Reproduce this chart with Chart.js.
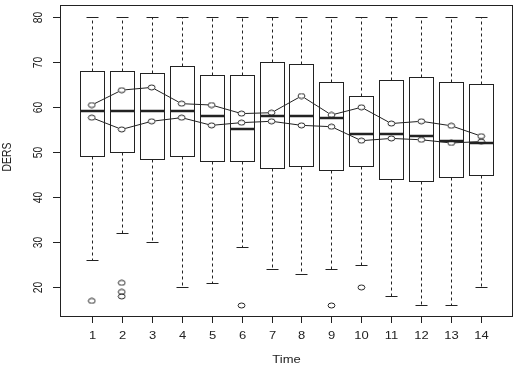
<!DOCTYPE html>
<html>
<head>
<meta charset="utf-8">
<script src="https://cdn.jsdelivr.net/npm/chart.js@4.4.1/dist/chart.umd.min.js"></script>
<style>
  html, body { margin: 0; padding: 0; background: #fff; }
  canvas { display: block; }
</style>
</head>
<body>
<canvas id="chart" width="518" height="369"></canvas>
<script>
// DERS scores by time point, boxplot with two group means on top

// --- data ---
const times = [1, 2, 3, 4, 5, 6, 7, 8, 9, 10, 11, 12, 13, 14];
const q1 = [49, 50, 48.5, 49, 48, 48, 46.5, 47, 46, 47, 44, 43.5, 44.5, 45];
const q3 = [68, 68, 67.5, 69, 67, 67, 70, 69.5, 65.5, 62.5, 66, 66.5, 65.5, 65];
const medians = [59, 59, 59, 59, 58, 55, 58, 58, 57.5, 54, 54, 53.5, 52.5, 52];
const whiskerLow = [26, 32, 30, 20, 21, 29, 24, 23, 24, 25, 18, 16, 16, 20];
const whiskerHigh = [80, 80, 80, 80, 80, 80, 80, 80, 80, 80, 80, 80, 80, 80];
const outlierTime = [1, 2, 2, 2, 6, 9, 10];
const outlierValue = [17, 21, 19, 18, 16, 16, 20];
const groupA = [60.4, 63.7, 64.3, 60.7, 60.4, 58.5, 58.7, 62.4, 58.2, 59.9, 56.3, 56.8, 55.8, 53.5];
const groupB = [57.6, 55, 56.8, 57.6, 55.9, 56.5, 56.8, 55.9, 55.6, 52.5, 53, 52.7, 52, 52.3];
const yTicks = [20, 30, 40, 50, 60, 70, 80];
const xLabel = 'Time';
const yLabel = 'DERS';

// --- look ---
const ink = '#222';
const font = '13px "Liberation Sans", Arial, sans-serif';
const squash = 0.8; // the picture is a bit flattened vertically

// open ellipse marker (R pch 1 after the squash)
function ring() {
  const c = document.createElement('canvas');
  c.width = 9; c.height = 7;
  const g = c.getContext('2d');
  g.strokeStyle = ink;
  g.lineWidth = 1;
  g.beginPath();
  g.ellipse(4.5, 3.5, 3.4, 2.5, 0, 0, Math.PI * 2);
  g.stroke();
  return c;
}
const marker = ring();

function pts(vals) {
  return times.map((t, i) => ({ x: t, y: vals[i] }));
}

function text(ctx, s, x, y, rot) {
  ctx.save();
  ctx.translate(x, y);
  ctx.scale(1, squash);
  if (rot) ctx.rotate(rot);
  ctx.fillText(s, 0, 0);
  ctx.restore();
}

const crisp = v => Math.round(v) + 0.5;

const boxPlugin = {
  id: 'boxes',
  beforeDatasetsDraw(chart) {
    const { ctx, scales: { x, y } } = chart;
    ctx.save();
    ctx.strokeStyle = ink;
    ctx.lineWidth = 1;

    times.forEach((t, i) => {
      const cx = crisp(x.getPixelForValue(t));
      const l = crisp(x.getPixelForValue(t - 0.4));
      const r = crisp(x.getPixelForValue(t + 0.4));
      const sl = crisp(x.getPixelForValue(t - 0.2));
      const sr = crisp(x.getPixelForValue(t + 0.2));
      const yLo = crisp(y.getPixelForValue(whiskerLow[i]));
      const yHi = crisp(y.getPixelForValue(whiskerHigh[i]));
      const yQ1 = crisp(y.getPixelForValue(q1[i]));
      const yQ3 = crisp(y.getPixelForValue(q3[i]));
      const yMed = Math.round(y.getPixelForValue(medians[i]));

      // whiskers
      ctx.setLineDash([3, 3]);
      ctx.beginPath();
      ctx.moveTo(cx, yQ3); ctx.lineTo(cx, yHi);
      ctx.moveTo(cx, yQ1); ctx.lineTo(cx, yLo);
      ctx.stroke();
      ctx.setLineDash([]);

      // staples
      ctx.beginPath();
      ctx.moveTo(sl, yHi); ctx.lineTo(sr, yHi);
      ctx.moveTo(sl, yLo); ctx.lineTo(sr, yLo);
      ctx.stroke();

      // box
      ctx.fillStyle = '#fff';
      ctx.fillRect(l, yQ3, r - l, yQ1 - yQ3);
      ctx.strokeRect(l, yQ3, r - l, yQ1 - yQ3);

      // median
      ctx.lineWidth = 2.5;
      ctx.beginPath();
      ctx.moveTo(l - 0.5, yMed); ctx.lineTo(r + 0.5, yMed);
      ctx.stroke();
      ctx.lineWidth = 1;
    });

    // group mean lines, type "b": segments stop short of the markers
    const gap = 3.6;
    [groupA, groupB].forEach(vals => {
      ctx.beginPath();
      for (let i = 0; i < times.length - 1; i++) {
        const x0 = x.getPixelForValue(times[i]), y0 = y.getPixelForValue(vals[i]);
        const x1 = x.getPixelForValue(times[i + 1]), y1 = y.getPixelForValue(vals[i + 1]);
        const d = Math.hypot(x1 - x0, y1 - y0);
        if (d <= gap * 2) continue;
        const ux = (x1 - x0) / d, uy = (y1 - y0) / d;
        ctx.moveTo(x0 + ux * gap, y0 + uy * gap);
        ctx.lineTo(x1 - ux * gap, y1 - uy * gap);
      }
      ctx.stroke();
    });
    ctx.restore();
  },
  afterDraw(chart) {
    const { ctx, chartArea: a, scales: { x, y } } = chart;
    ctx.save();
    ctx.strokeStyle = ink;
    ctx.fillStyle = ink;
    ctx.lineWidth = 1;
    ctx.font = font;

    // frame
    ctx.strokeRect(a.left + 0.5, a.top + 0.5, a.right - a.left - 1, a.bottom - a.top - 1);

    // y axis
    ctx.textAlign = 'center';
    ctx.textBaseline = 'middle';
    yTicks.forEach(v => {
      const py = crisp(y.getPixelForValue(v));
      ctx.beginPath();
      ctx.moveTo(a.left - 7, py); ctx.lineTo(a.left, py);
      ctx.stroke();
      text(ctx, String(v), a.left - 22, py, -Math.PI / 2);
    });

    // x axis
    times.forEach(t => {
      const px = crisp(x.getPixelForValue(t));
      ctx.beginPath();
      ctx.moveTo(px, a.bottom); ctx.lineTo(px, a.bottom + 6);
      ctx.stroke();
      text(ctx, String(t), px, a.bottom + 19);
    });

    text(ctx, xLabel, (a.left + a.right) / 2, a.bottom + 43);
    text(ctx, yLabel, 7, (a.top + a.bottom) / 2 - 4, -Math.PI / 2);
    ctx.restore();
  }
};

const pointStyle = {
  pointStyle: marker,
  pointRadius: 4,
  showLine: false
};

new Chart(document.getElementById('chart'), {
  type: 'scatter',
  data: {
    datasets: [
      { label: 'group A', data: pts(groupA), ...pointStyle },
      { label: 'group B', data: pts(groupB), ...pointStyle },
      {
        label: 'outliers',
        data: outlierTime.map((t, i) => ({ x: t, y: outlierValue[i] })),
        ...pointStyle
      }
    ]
  },
  options: {
    responsive: false,
    animation: false,
    events: [],
    devicePixelRatio: 1,
    layout: { padding: { left: 60, top: 4, right: 4, bottom: 52 } },
    plugins: { legend: { display: false }, tooltip: { enabled: false } },
    scales: {
      x: { type: 'linear', min: -0.06, max: 15.06, display: false },
      y: { type: 'linear', min: 13.44, max: 82.56, display: false }
    }
  },
  plugins: [boxPlugin]
});
</script>
</body>
</html>
